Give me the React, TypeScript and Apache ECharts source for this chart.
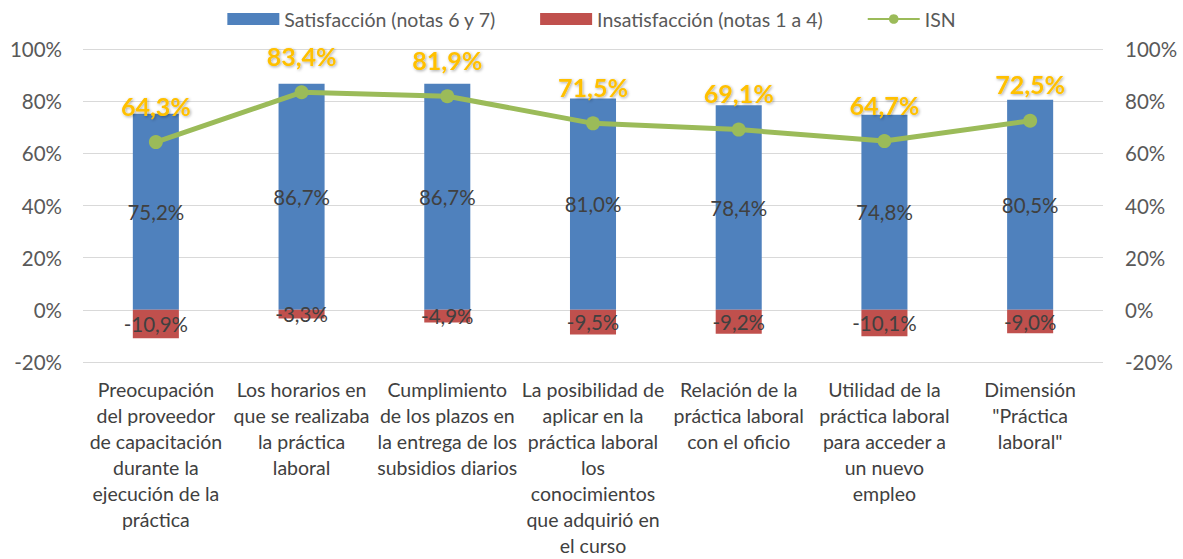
import React, { useEffect, useRef } from "react";
import * as echarts from "echarts";

const categories = [
  "Preocupación\ndel proveedor\nde capacitación\ndurante la\nejecución de la\npráctica",
  "Los horarios en\nque se realizaba\nla práctica\nlaboral",
  "Cumplimiento\nde los plazos en\nla entrega de los\nsubsidios diarios",
  "La posibilidad de\naplicar en la\npráctica laboral\nlos\nconocimientos\nque adquirió en\nel curso",
  "Relación de la\npráctica laboral\ncon el oficio",
  "Utilidad de la\npráctica laboral\npara acceder a\nun nuevo\nempleo",
  "Dimensión\n\"Práctica\nlaboral\"",
];
const satisfaccion = [75.2, 86.7, 86.7, 81.0, 78.4, 74.8, 80.5];
const insatisfaccion = [-10.9, -3.3, -4.9, -9.5, -9.2, -10.1, -9.0];
const isn = [64.3, 83.4, 81.9, 71.5, 69.1, 64.7, 72.5];

const FONT = "Lato, 'Open Sans', sans-serif";
const fmt = (v: number) => v.toFixed(1).replace(".", ",") + "%";

export default function App() {
  const ref = useRef<HTMLDivElement>(null);
  useEffect(() => {
    if (!ref.current) return;
    const chart = echarts.init(ref.current, undefined, { renderer: "svg" });
    chart.setOption({
      animation: false,
      textStyle: { fontFamily: FONT },
      legend: {
        top: 4,
        left: "center",
        itemWidth: 52,
        itemHeight: 12,
        itemGap: 44,
        textStyle: { fontSize: 19.5, color: "#595959", fontFamily: FONT },
        data: [
          { name: "Satisfacción (notas 6 y 7)", icon: "rect" },
          { name: "Insatisfacción (notas 1 a 4)", icon: "rect" },
          { name: "ISN" },
        ],
      },
      grid: { left: 83, right: 80, top: 49, bottom: 197 },
      xAxis: {
        type: "category",
        data: categories,
        axisLine: { show: false, onZero: false },
        axisTick: { show: false },
        axisLabel: {
          interval: 0,
          fontSize: 19.5,
          lineHeight: 26,
          color: "#404040",
          fontFamily: FONT,
          margin: 14,
          align: "center",
        },
      },
      yAxis: [
        {
          type: "value",
          min: -20,
          max: 100,
          interval: 20,
          axisLabel: {
            formatter: "{value}%",
            fontSize: 20.5,
            color: "#595959",
            margin: 21,
            fontFamily: FONT,
          },
          axisLine: { show: false },
          axisTick: { show: false },
          splitLine: { lineStyle: { color: "#D9D9D9", width: 1 } },
        },
        {
          type: "value",
          min: -20,
          max: 100,
          interval: 20,
          position: "right",
          axisLabel: {
            formatter: "{value}%",
            fontSize: 20.5,
            color: "#595959",
            margin: 22,
            fontFamily: FONT,
          },
          axisLine: { show: false },
          axisTick: { show: false },
          splitLine: { show: false },
        },
      ],
      series: [
        {
          name: "Satisfacción (notas 6 y 7)",
          type: "bar",
          stack: "total",
          data: satisfaccion,
          barWidth: "31.6%",
          itemStyle: { color: "#4F81BD" },
          label: {
            show: true,
            position: "inside",
            formatter: (p: any) => fmt(p.value),
            fontSize: 20.5,
            color: "#404040",
            fontFamily: FONT,
          },
        },
        {
          name: "Insatisfacción (notas 1 a 4)",
          type: "bar",
          stack: "total",
          data: insatisfaccion,
          barWidth: "31.6%",
          itemStyle: { color: "#C0504D" },
          label: {
            show: true,
            position: "inside",
            formatter: (p: any) => fmt(p.value),
            fontSize: 20.5,
            color: "#404040",
            fontFamily: FONT,
          },
        },
        {
          name: "ISN",
          type: "line",
          data: isn,
          symbol: "circle",
          symbolSize: 14,
          z: 5,
          lineStyle: { color: "#9BBB59", width: 5 },
          itemStyle: { color: "#9BBB59" },
          label: {
            show: true,
            position: "top",
            distance: 17,
            formatter: (p: any) => fmt(p.value),
            fontSize: 25,
            fontWeight: "bold",
            color: "#FFC000",
            fontFamily: FONT,
            textShadowColor: "rgba(0,0,0,0.35)",
            textShadowBlur: 3,
            textShadowOffsetX: 1,
            textShadowOffsetY: 1,
          },
        },
      ],
    });
    return () => chart.dispose();
  }, []);
  return (
    <div
      ref={ref}
      style={{ position: "absolute", left: 0, top: 0, width: 1183, height: 559 }}
    />
  );
}
